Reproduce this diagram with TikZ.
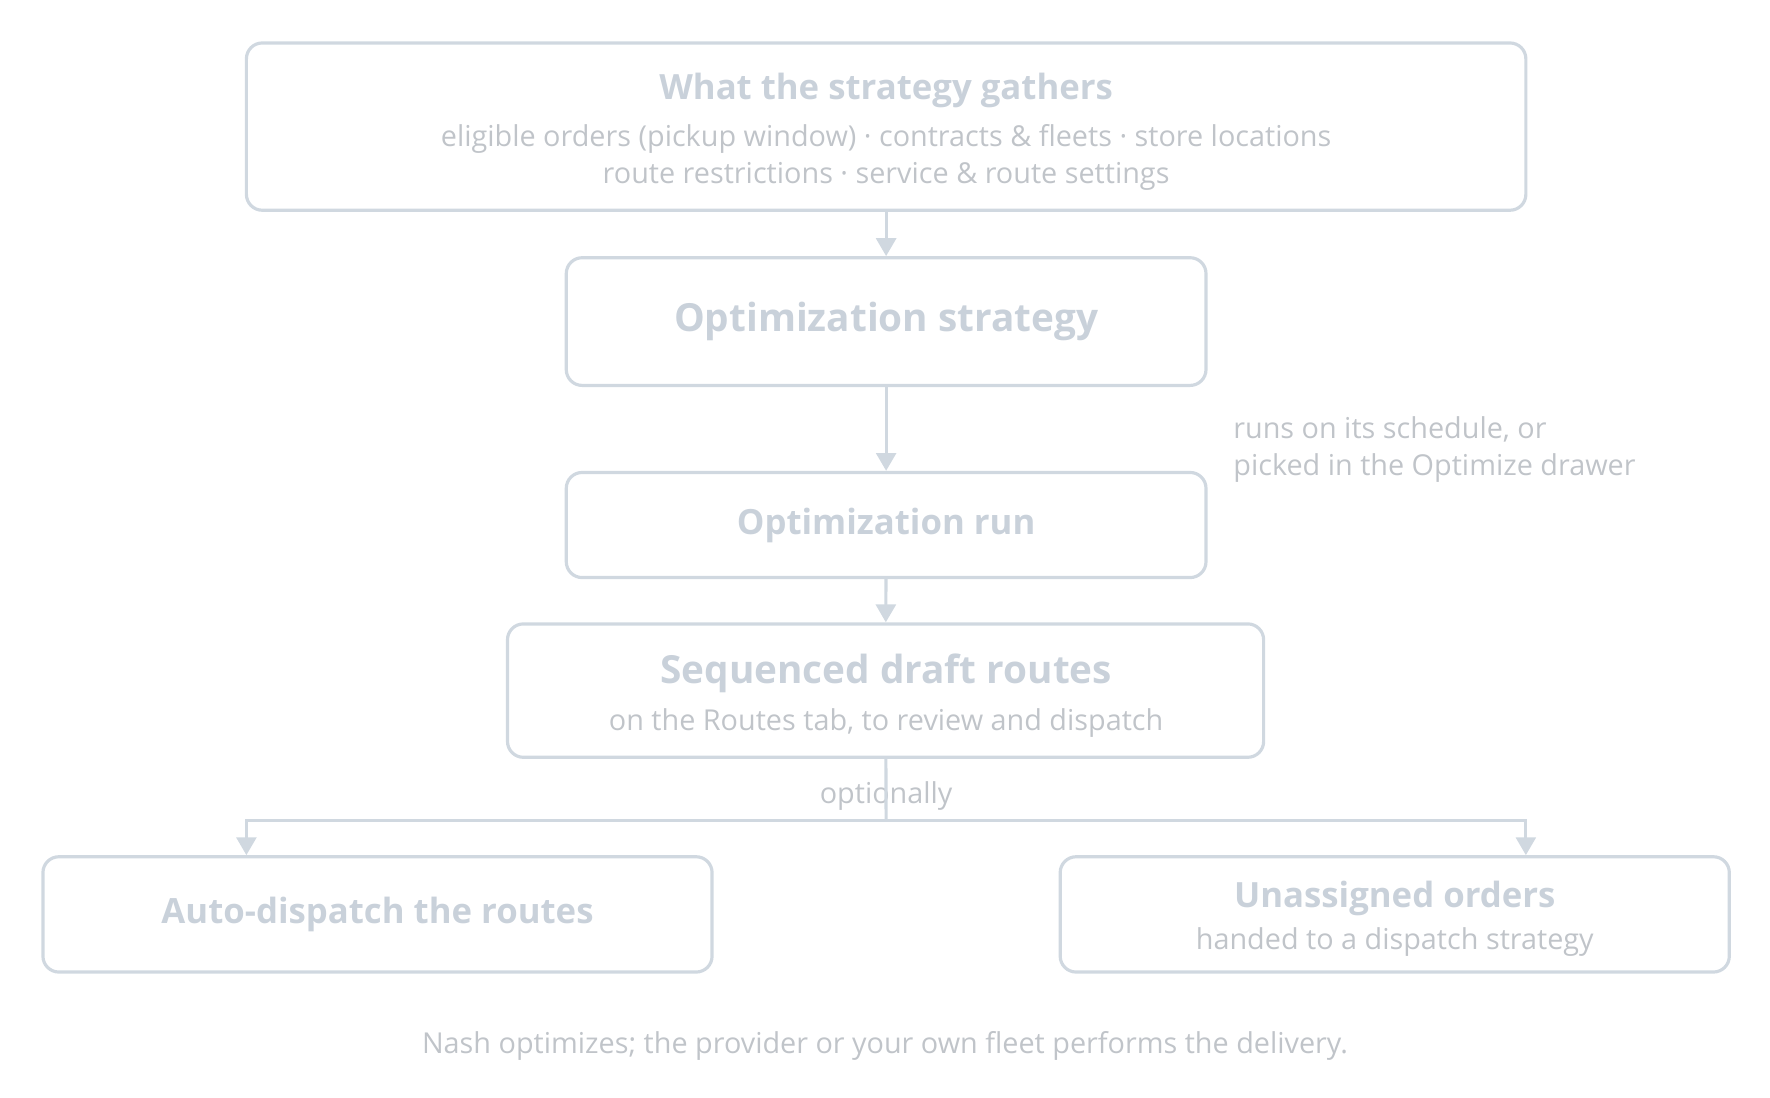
\documentclass[tikz,border=0pt]{standalone}
\usepackage{fontspec}
\setmainfont{Open Sans}
\usetikzlibrary{arrows.meta}
\definecolor{edgegray}{HTML}{D0D8E0}
\definecolor{headgray}{HTML}{C9D1DA}
\definecolor{subgray}{HTML}{C0C4C9}
\tikzset{
  stage/.style={draw=edgegray, line width=1.6pt, rounded corners=8pt, align=center, inner sep=0pt},
  head/.style={text=headgray, font=\fontsize{17.5}{21}\selectfont\bfseries},
  bighead/.style={text=headgray, font=\fontsize{19.5}{23}\selectfont\bfseries},
  sub/.style={text=subgray, font=\fontsize{14.5}{18}\selectfont},
  flow/.style={draw=edgegray, line width=1.6pt, -{Triangle[width=10pt,length=9pt]}}
}
\begin{document}
\begin{tikzpicture}[x=0.02cm, y=-0.02cm]
	\useasboundingbox (0,0) rectangle (1566,971);
	\node[stage, minimum width=1132*0.02cm, minimum height=148*0.02cm] (gather) at (784,112) {};
	\node[head] at (784,80) {What the strategy gathers};
	\node[sub] at (784,123) {eligible orders (pickup window) · contracts \& fleets · store locations};
	\node[sub] at (784,156) {route restrictions · service \& route settings};
	\node[stage, minimum width=566*0.02cm, minimum height=113*0.02cm, bighead] (strategy) at (784,284.5) {Optimization strategy};
	\node[stage, minimum width=566*0.02cm, minimum height=93*0.02cm, head] (run) at (784,464.5) {Optimization run};
	\node[stage, minimum width=669*0.02cm, minimum height=118*0.02cm] (draft) at (783.5,611) {};
	\node[bighead] at (784,596) {Sequenced draft routes};
	\node[sub] at (784,640) {on the Routes tab, to review and dispatch};
	\node[stage, minimum width=592*0.02cm, minimum height=102*0.02cm, head] (auto) at (334,809) {Auto-dispatch the routes};
	\node[stage, minimum width=592*0.02cm, minimum height=102*0.02cm] (unassigned) at (1234,809) {};
	\node[head] at (1234,795) {Unassigned orders};
	\node[sub] at (1234,833) {handed to a dispatch strategy};
	\node[sub, anchor=west] (note) at (1085,398) {\begin{tabular}{@{}l@{}}runs on its schedule, or\\[1pt]picked in the Optimize drawer\end{tabular}};
	\node[sub] (opt) at (784,704) {optionally};
	\node[sub] (foot) at (783,925) {Nash optimizes; the provider or your own fleet performs the delivery.};
	\coordinate (split) at (784,726);
	\draw[flow] (gather) -- (strategy);
	\draw[flow] (strategy) -- (run);
	\draw[flow] (run) -- (draft);
	\draw[edgegray, line width=1.6pt] (draft) -- (split);
	\draw[flow] (split) -| (auto.north -| 218,0);
	\draw[flow] (split) -| (unassigned.north -| 1350,0);
\end{tikzpicture}
\end{document}
